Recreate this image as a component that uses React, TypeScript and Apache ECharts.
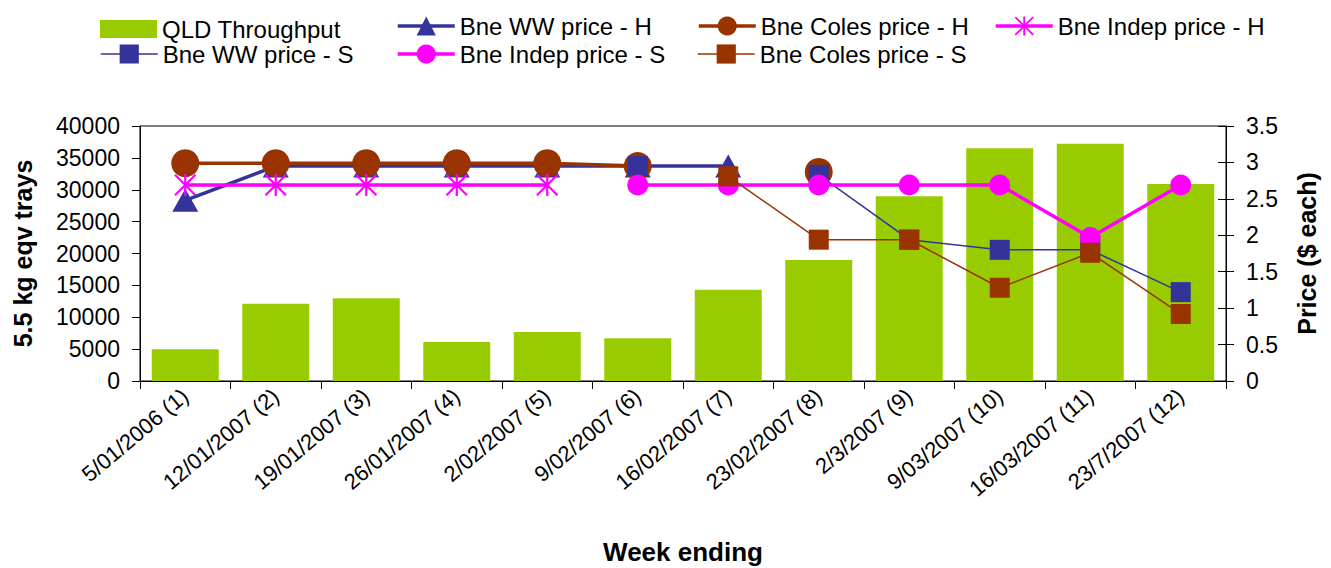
import React, { useEffect, useRef } from "react";
import * as echarts from "echarts";

const categories = [
  "5/01/2006 (1)", "12/01/2007 (2)", "19/01/2007 (3)", "26/01/2007 (4)",
  "2/02/2007 (5)", "9/02/2007 (6)", "16/02/2007 (7)", "23/02/2007 (8)",
  "2/3/2007 (9)", "9/03/2007 (10)", "16/03/2007 (11)", "23/7/2007 (12)",
];
const throughput = [5000, 12100, 13000, 6100, 7700, 6700, 14300, 19000, 29000, 36500, 37200, 30900];
const wwH = [2.48, 2.95, 2.95, 2.95, 2.95, 2.95, 2.95, null, null, null, null, null];
const colesH = [2.99, 2.99, 2.99, 2.99, 2.99, 2.95, null, 2.87, null, null, null, null];
const indepH = [2.69, 2.69, 2.69, 2.69, 2.69, null, null, null, null, null, null, null];
const wwS = [null, null, null, null, null, 2.95, null, 2.83, 1.94, 1.8, 1.8, 1.22];
const indepS = [null, null, null, null, null, 2.69, 2.69, 2.69, 2.69, 2.69, 1.97, 2.69];
const colesS = [null, null, null, null, null, null, 2.81, 1.94, 1.94, 1.28, 1.76, 0.92];

const leftTicks = [0, 40000, 5000];
const rightTicks = [0, 3.5, 0.5];

const GREEN = "#99CC00";
const NAVY = "#333399";
const BROWN = "#993300";
const PINK = "#FF00FF";
const FONT = "Liberation Sans, Arial, sans-serif";

const ASTERISK =
  "path://M9,0L11,0L11,20L9,20Z M0,1.4L1.4,0L20,18.6L18.6,20Z M18.6,0L20,1.4L1.4,20L0,18.6Z";

export default function App() {
  const ref = useRef<HTMLDivElement>(null);
  useEffect(() => {
    if (!ref.current) return;
    const chart = echarts.init(ref.current, null, { renderer: "svg" });
    const legendText = { fontFamily: FONT, fontSize: 24, lineHeight: 24, color: "#000" };
    const mkLegend = (
      name: string,
      left: number,
      top: number,
      lineWidth: number,
      bar = false
    ) => ({
      data: bar ? [{ name, icon: "rect" }] : [name],
      left,
      top,
      padding: 0,
      itemGap: 0,
      itemWidth: 57,
      itemHeight: bar ? 18 : 24,
      textStyle: legendText,
      lineStyle: { width: lineWidth },
      selectedMode: false,
    });
    const lineSeries = (
      name: string,
      data: (number | null)[],
      color: string,
      width: number,
      symbol: string,
      size: number | number[]
    ) => ({
      name,
      type: "line",
      yAxisIndex: 1,
      data,
      symbol,
      symbolSize: size,
      showAllSymbol: true,
      connectNulls: false,
      lineStyle: { color, width },
      itemStyle: { color, opacity: 1 },
      emphasis: { disabled: true },
    });
    chart.setOption({
      animation: false,
      textStyle: { fontFamily: FONT },
      legend: [
        mkLegend("QLD Throughput", 100, 17, 0, true),
        mkLegend("Bne WW price - H", 396, 14, 3.5),
        mkLegend("Bne Coles price - H", 697, 14, 3.5),
        mkLegend("Bne Indep price - H", 994, 14, 3.5),
        mkLegend("Bne WW price - S", 100, 42, 1.5),
        mkLegend("Bne Indep price - S", 396, 42, 3.5),
        mkLegend("Bne Coles price - S", 697, 42, 1.5),
      ],
      grid: {
        left: 140,
        right: 105,
        top: 126,
        bottom: 187,
        show: true,
        borderColor: "#000",
        borderWidth: 1,
        backgroundColor: "#fff",
      },
      xAxis: {
        type: "category",
        data: categories,
        boundaryGap: true,
        name: "Week ending",
        nameLocation: "middle",
        nameGap: 158,
        nameTextStyle: { fontFamily: FONT, fontSize: 26, fontWeight: "bold", color: "#000" },
        axisLine: { lineStyle: { color: "#000", width: 1 } },
        axisTick: { show: true, length: 8, lineStyle: { color: "#000" } },
        axisLabel: {
          rotate: 40,
          interval: 0,
          margin: 12,
          fontFamily: FONT,
          fontSize: 22,
          color: "#000",
        },
      },
      yAxis: [
        {
          type: "value",
          min: leftTicks[0],
          max: leftTicks[1],
          interval: leftTicks[2],
          position: "left",
          name: "5.5 kg eqv trays",
          nameLocation: "middle",
          nameGap: 105,
          nameTextStyle: { fontFamily: FONT, fontSize: 25, fontWeight: "bold", color: "#000" },
          axisLine: { show: true, lineStyle: { color: "#000", width: 1 } },
          axisTick: { show: true, length: 8, lineStyle: { color: "#000" } },
          splitLine: { show: false },
          axisLabel: {
            fontFamily: FONT,
            fontSize: 23,
            color: "#000",
            margin: 20,
            formatter: (v: number) => String(v),
          },
        },
        {
          type: "value",
          min: rightTicks[0],
          max: rightTicks[1],
          interval: rightTicks[2],
          position: "right",
          name: "Price ($ each)",
          nameLocation: "middle",
          nameRotate: 90,
          nameGap: 68,
          nameTextStyle: { fontFamily: FONT, fontSize: 25, fontWeight: "bold", color: "#000" },
          axisLine: { show: true, lineStyle: { color: "#000", width: 1 } },
          axisTick: { show: true, length: 8, lineStyle: { color: "#000" } },
          splitLine: { show: false },
          axisLabel: { fontFamily: FONT, fontSize: 23, color: "#000", margin: 20 },
        },
        {
          type: "value",
          min: rightTicks[0],
          max: rightTicks[1],
          interval: rightTicks[2],
          position: "right",
          axisLine: { show: false },
          axisTick: { show: true, inside: true, length: 8, lineStyle: { color: "#000" } },
          splitLine: { show: false },
          axisLabel: { show: false },
        },
      ],
      series: [
        {
          name: "QLD Throughput",
          type: "bar",
          yAxisIndex: 0,
          data: throughput,
          barWidth: 67,
          itemStyle: { color: GREEN },
          emphasis: { disabled: true },
        },
        lineSeries("Bne WW price - H", wwH, NAVY, 3.5, "triangle", [26, 23]),
        lineSeries("Bne Coles price - H", colesH, BROWN, 3.5, "circle", 28),
        lineSeries("Bne Indep price - H", indepH, PINK, 3.5, ASTERISK, 22),
        lineSeries("Bne WW price - S", wwS, NAVY, 1.5, "rect", 20),
        lineSeries("Bne Indep price - S", indepS, PINK, 3.5, "circle", 21),
        lineSeries("Bne Coles price - S", colesS, BROWN, 1.5, "rect", 20),
      ],
    });
    return () => chart.dispose();
  }, []);
  return (
    <div
      ref={ref}
      style={{ position: "fixed", left: 0, top: 0, width: 1331, height: 568, background: "#fff" }}
    />
  );
}
